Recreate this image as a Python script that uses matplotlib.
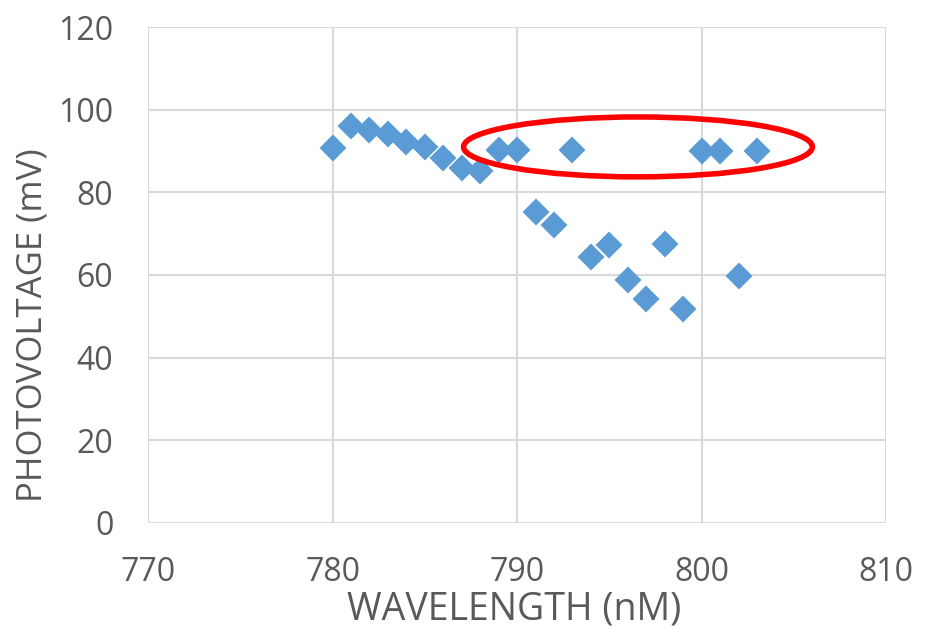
import numpy as np
import matplotlib
matplotlib.use("Agg")
import matplotlib.pyplot as plt
from matplotlib.patches import Ellipse

plt.rcParams['font.family'] = ['Open Sans', 'DejaVu Sans']

# wavelength sweep (nm) and measured photovoltage (mV)
wavelength = [780, 781, 782, 783, 784, 785, 786, 787, 788, 789, 790, 791,
              792, 793, 794, 795, 796, 797, 798, 799, 800, 801, 802, 803]
photovoltage = [90.7, 96.0, 95.1, 94.1, 92.2, 91.0, 88.3, 85.9, 85.2, 90.2, 90.2, 75.2,
                72.1, 90.2, 64.4, 67.3, 58.9, 54.3, 67.6, 51.8, 90.0, 90.0, 59.8, 90.0]

# highlighted plateau region: centre, width, height in data units
ring_center = (796.55, 91.0)
ring_width = 18.9
ring_height = 14.5

xticks = [770, 780, 790, 800, 810]
yticks = [0, 20, 40, 60, 80, 100, 120]

grey = '#595959'
blue = '#5B9BD5'

fig = plt.figure(figsize=(9.25, 6.3), dpi=100)
ax = fig.add_axes([0.160, 0.170, 0.798, 0.787])

ax.plot(wavelength, photovoltage, linestyle='none', marker='D', markersize=12,
        color=blue, markeredgecolor=blue, markeredgewidth=1.5, zorder=3)

ax.add_patch(Ellipse(ring_center, ring_width, ring_height, fill=False,
                     edgecolor='#FF0000', linewidth=4, zorder=4))

ax.set_xlim(770, 810)
ax.set_ylim(0, 120)
ax.set_xticks(xticks)
ax.set_yticks(yticks)
ax.grid(True, color='#D9D9D9', linewidth=1.5)
ax.set_axisbelow(True)
for s in ax.spines.values():
    s.set_visible(False)
ax.tick_params(length=0, labelsize=23, labelcolor=grey)
ax.tick_params(axis='x', pad=24)
ax.tick_params(axis='y', pad=25)

ax.set_xlabel('WAVELENGTH (nM)', fontsize=27, color=grey, va='center')
ax.set_ylabel('PHOTOVOLTAGE (mV)', fontsize=25, color=grey, va='center')
ax.xaxis.set_label_coords(0.496, -0.174)
ax.yaxis.set_label_coords(-0.156, 0.398)

fig.savefig('out.png', dpi=100)
